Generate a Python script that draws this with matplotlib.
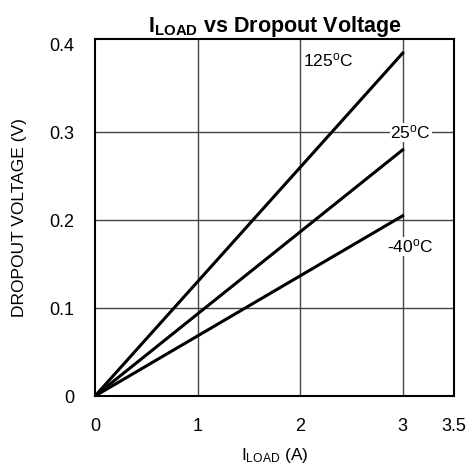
import matplotlib
matplotlib.use("Agg")
import matplotlib.pyplot as plt

plt.rcParams['font.family'] = ['Liberation Sans', 'DejaVu Sans']
plt.rcParams['mathtext.fontset'] = 'custom'
plt.rcParams['mathtext.rm'] = 'Liberation Sans'
plt.rcParams['mathtext.it'] = 'Liberation Sans'
plt.rcParams['mathtext.bf'] = 'Liberation Sans:bold'

# load current (A) vs dropout voltage (V)
iload = [0, 3]
temps = ['125', '25', '-40']
v_125 = [0, 0.39]
v_25 = [0, 0.28]
v_m40 = [0, 0.205]
label_pos = [(2.03, 0.382), (2.88, 0.3), (2.85, 0.17)]

fig = plt.figure(figsize=(4.69, 4.70), dpi=100)
ax = fig.add_axes([0.2026, 0.1574, 0.7654, 0.7596])

for v in [v_125, v_25, v_m40]:
    ax.plot(iload, v, color='black', linewidth=2.2, zorder=3)

for t, (x, y) in zip(temps, label_pos):
    ax.text(x, y, t + r'$^{\rm o}$C', fontsize=12.5, va='center', ha='left',
            bbox=dict(facecolor='white', edgecolor='none', pad=0.5), zorder=4)

ax.set_xlim(0, 3.5)
ax.set_ylim(0, 0.406)
ax.set_xticks([0, 1, 2, 3, 3.5])
ax.set_xticklabels(['0', '1', '2', '3', '3.5'])
ax.set_yticks([0, 0.1, 0.2, 0.3, 0.4])
ax.set_yticklabels(['0', '0.1', '0.2', '0.3', '0.4'])
ax.tick_params(length=0, labelsize=13, pad=15)
ax.tick_params(axis='x', pad=16)
for x in [1, 2, 3]:
    ax.axvline(x, color='#444444', linewidth=1, zorder=1)
for y in [0.1, 0.2, 0.3]:
    ax.axhline(y, color='#444444', linewidth=1, zorder=1)
for s in ax.spines.values():
    s.set_linewidth(1.5)

ax.set_xlabel(r'I$_{\rm LOAD}$ (A)', fontsize=12.5, labelpad=8)
ax.set_ylabel('DROPOUT VOLTAGE (V)', fontsize=12.5, labelpad=16)
ax.set_title(r'$\mathbf{I_{LOAD}}$ vs Dropout Voltage', fontsize=15.5,
             fontweight='bold', pad=4)

fig.savefig('out.png', dpi=100)
